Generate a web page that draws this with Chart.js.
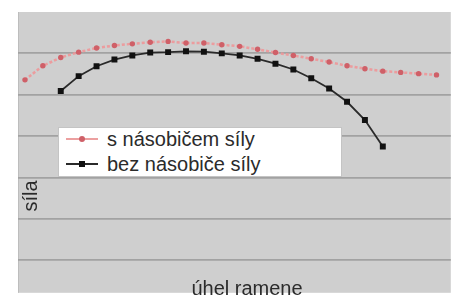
<!DOCTYPE html>
<html>
<head>
<meta charset="utf-8">
<script src="https://cdn.jsdelivr.net/npm/chart.js@4"></script>
<style>
  body { margin: 0; background: #fff; overflow: hidden; }
  #wrap { position: relative; width: 455px; height: 297px; }
  #legend {
    position: absolute; left: 58px; top: 127px; width: 284px; height: 50px;
    background: #fff; border: 1px solid #c4c4c4; box-sizing: border-box;
    font-family: "Liberation Sans", Arial, sans-serif; font-size: 20px; color: #2b2b2b;
  }
  .row { position: absolute; left: 0; height: 24px; line-height: 24px; }
  .row span.txt { position: absolute; left: 48px; white-space: nowrap; }
  .row span.ln { position: absolute; left: 7px; width: 32px; top: 11px; height: 2px; }
  .row span.mk { position: absolute; left: 20px; top: 9px; width: 6px; height: 6px; }
</style>
</head>
<body>
<div id="wrap">
  <canvas id="myChart" width="455" height="297"></canvas>
  <div id="legend"></div>
</div>
<script>
// úhel ramene (pořadí bodů) a síla pro obě řady
const uhel = [0, 1, 2, 3, 4, 5, 6, 7, 8, 9, 10, 11, 12, 13, 14, 15, 16, 17, 18, 19, 20, 21, 22, 23];
const sNasobicem = [53.6, 57.0, 59.0, 60.3, 61.3, 61.9, 62.3, 62.7, 62.9, 62.5, 62.5, 62.1,
                    61.7, 61.0, 60.2, 59.5, 58.7, 57.9, 57.0, 56.3, 55.7, 55.4, 55.1, 54.8];
const bezNasobice = [null, null, 50.9, 54.5, 56.9, 58.5, 59.5, 60.2, 60.3, 60.5, 60.4, 60.0,
                     59.5, 58.7, 57.5, 56.1, 54.0, 51.5, 48.3, 43.9, 37.5, null, null, null];
const nazvy = ["s násobičem síly", "bez násobiče síly"];
const osaX = "úhel ramene";
const osaY = "síla";

const toPoints = vals => uhel
  .map((u, i) => ({ x: u, y: vals[i] }))
  .filter(p => p.y !== null);

// šedé pozadí plochy grafu + popisky os
const plotBg = {
  id: "plotBg",
  beforeDraw(chart) {
    const { ctx, chartArea: a } = chart;
    ctx.save();
    ctx.fillStyle = "#cfcfcf";
    ctx.fillRect(a.left, a.top, a.right - a.left, a.bottom - a.top);
    ctx.fillStyle = "#bdbdbd";
    ctx.fillRect(a.left, a.top, 1, a.bottom - a.top);
    ctx.restore();
  },
  afterDraw(chart) {
    const { ctx } = chart;
    ctx.save();
    ctx.fillStyle = "#2b2b2b";
    ctx.font = "20px 'Liberation Sans', Arial, sans-serif";
    ctx.textAlign = "center";
    ctx.textBaseline = "alphabetic";
    ctx.fillText(osaX, 247, 295);
    ctx.translate(37, 196);
    ctx.rotate(-Math.PI / 2);
    ctx.fillText(osaY, 0, 0);
    ctx.restore();
  }
};

const ctx = document.getElementById("myChart").getContext("2d");

const chart = new Chart(ctx, {
  type: "line",
  data: {
    datasets: [
      {
        label: nazvy[0],
        data: toPoints(sNasobicem),
        borderColor: "rgba(238, 150, 152, 0.9)",
        borderWidth: 2.5,
        borderDash: [3, 2],
        pointStyle: "circle",
        pointRadius: 2.7,
        pointBackgroundColor: "#cf6068",
        pointBorderColor: "#cf6068",
        pointBorderWidth: 0
      },
      {
        label: nazvy[1],
        data: toPoints(bezNasobice),
        borderColor: "#2a2a2a",
        borderWidth: 1.8,
        pointStyle: "rect",
        pointRadius: 4.2,
        pointBackgroundColor: "#111",
        pointBorderColor: "#111",
        pointBorderWidth: 0
      }
    ]
  },
  options: {
    responsive: false,
    animation: false,
    layout: { padding: { left: 18, top: 12, right: 0, bottom: 0 } },
    plugins: { legend: { display: false }, tooltip: { enabled: false } },
    scales: {
      x: { type: "linear", min: -0.39, max: 23.8, display: false },
      y: {
        min: 2.14,
        max: 70,
        border: { display: false },
        ticks: { display: false, stepSize: 10, includeBounds: false },
        grid: {
          drawTicks: false,
          lineWidth: 1.8,
          color: c => (c.tick && c.tick.value % 10 === 0 && c.tick.value < 70) ? "#a2a2a2" : "rgba(0,0,0,0)"
        }
      }
    }
  },
  plugins: [plotBg]
});

// legenda jako HTML box uvnitř plochy
const legend = document.getElementById("legend");
const barvy = [["#eca0a0", "#cf6068"], ["#2a2a2a", "#111"]];
nazvy.forEach((n, i) => {
  const row = document.createElement("div");
  row.className = "row";
  row.style.top = (i === 0 ? -1 : 24) + "px";
  row.innerHTML = '<span class="ln" style="background:' + barvy[i][0] + '"></span>' +
    '<span class="mk" style="background:' + barvy[i][1] + (i === 0 ? ';border-radius:50%' : '') + '"></span>' +
    '<span class="txt">' + n + '</span>';
  legend.appendChild(row);
});
</script>
</body>
</html>
